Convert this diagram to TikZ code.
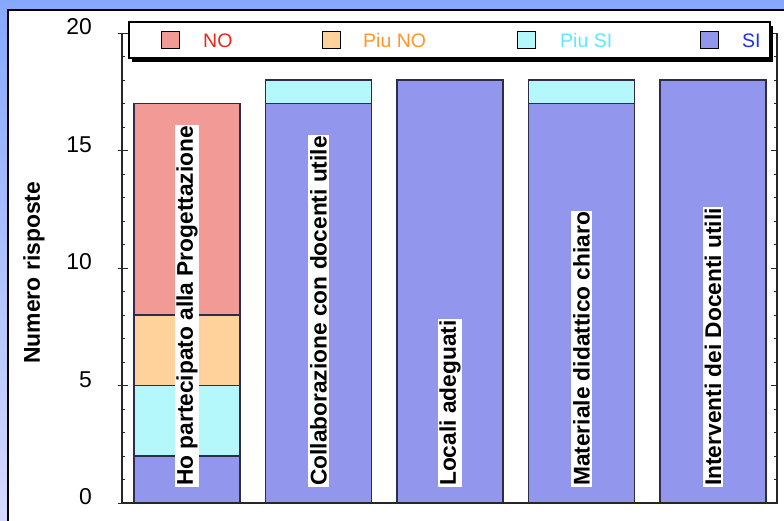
\documentclass[tikz,border=0pt]{standalone}
\usepackage{fontspec}
\setmainfont{Liberation Sans}
\usetikzlibrary{calc}
\definecolor{NoClr}{RGB}{242,154,150}
\definecolor{PiuNoClr}{RGB}{255,210,156}
\definecolor{PiuSiClr}{RGB}{180,248,252}
\definecolor{SiClr}{RGB}{146,150,236}
\definecolor{NoTxt}{RGB}{232,40,24}
\definecolor{PiuNoTxt}{RGB}{255,150,40}
\definecolor{PiuSiTxt}{RGB}{96,232,255}
\definecolor{SiTxt}{RGB}{30,50,230}
\definecolor{BackTop}{RGB}{134,168,255}
\definecolor{BackBot}{RGB}{214,218,255}
\definecolor{BarLine}{RGB}{45,45,75}

\tikzset{
  bar/.style={draw=BarLine,line width=1.2bp},
  axis/.style={line width=1.2bp,color=black!85},
  barlabel/.style={fill=white,rotate=90,anchor=west,inner xsep=1bp,inner ysep=1.8bp,
    font=\bfseries\fontsize{22.8}{26}\selectfont},
  ticklabel/.style={anchor=east,inner sep=0pt,font=\fontsize{23}{26}\selectfont},
  key/.style={draw=black,line width=1bp,minimum width=18bp,minimum height=17bp,inner sep=0pt},
  keytext/.style={anchor=west,inner sep=0pt,font=\fontsize{19.6}{23}\selectfont}
}

\begin{document}
\begin{tikzpicture}[x=1bp,y=1bp]
\useasboundingbox (0,0) rectangle (784,521);
\shade[top color=BackTop,bottom color=BackBot] (0,0) rectangle (784,521);
\fill[white] (8,-5) rectangle (800,511);
\draw[line width=1.5bp] (8,-5) -- (8,511) -- (800,511);

\begin{scope}[shift={(122,18)},y=23.5bp]
\foreach \i/\lo/\hi/\clr in {1/0/2/SiClr,1/2/5/PiuSiClr,1/5/8/PiuNoClr,1/8/17/NoClr,
  2/0/17/SiClr,2/17/18/PiuSiClr,3/0/18/SiClr,4/0/17/SiClr,4/17/18/PiuSiClr,5/0/18/SiClr}
  \filldraw[bar,fill=\clr] ({12+131.5*(\i-1)},\lo) rectangle ++(106,{\hi-\lo});

\foreach \i/\txt/\nm in {1/Ho partecipato alla Progettazione/prog,
  2/Collaborazione con docenti utile/coll,3/Locali adeguati/loc,
  4/Materiale didattico chiaro/mat,5/Interventi dei Docenti utili/int}
  \node[barlabel] (\nm) at ({65+131.5*(\i-1)},{16/23.5}) {\txt};

\draw[axis] (0,20) -- (0,0) -- (655,0) -- (655,20);
\foreach \v in {0,...,20}{
  \draw[axis,line width=0.8bp] (0,\v) -- ++(3,0);
  \draw[axis,line width=0.8bp] (655,\v) -- ++(-3,0);
}
\foreach \v in {0,5,...,20}{
  \draw[axis,line width=0.8bp] (-4,\v) -- ++(10,0);
  \draw[axis,line width=0.8bp] (655,\v) -- ++(-6,0);
  \node[ticklabel] (tick\v) at (-30,\v) [yshift=6bp] {\v};
}

\node[rotate=90,font=\bfseries\fontsize{23}{26}\selectfont] (ytitle) at (-88,9.8) {Numero risposte};
\end{scope}

\fill[black] (132,459) rectangle (773,495);
\draw[line width=1.5bp,fill=white] (129,463) rectangle (770,499);

\foreach \kx/\tx/\clr/\tclr/\txt/\nm in {170/203/NoClr/NoTxt/NO/no,331/363/PiuNoClr/PiuNoTxt/Piu NO/piuno,
  526/560/PiuSiClr/PiuSiTxt/Piu SI/piusi,709/742/SiClr/SiTxt/SI/si}{
  \node[key,fill=\clr] (key\nm) at (\kx,480.5) {};
  \node[keytext,text=\tclr] (txt\nm) at (\tx,480.5) {\txt};
}

\end{tikzpicture}
\end{document}
